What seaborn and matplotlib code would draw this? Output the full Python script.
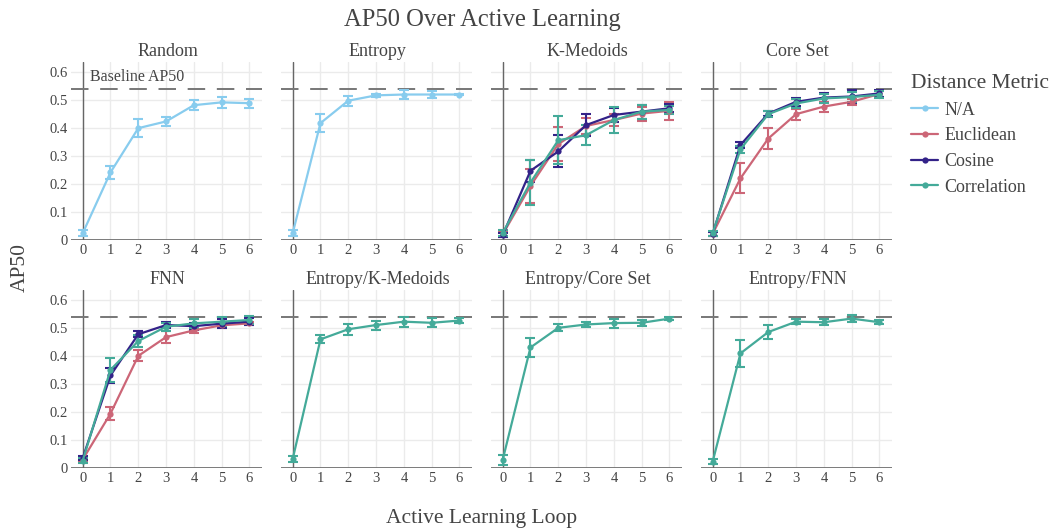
import numpy as np
import pandas as pd
import matplotlib
matplotlib.use("Agg")
import matplotlib.pyplot as plt
from matplotlib.lines import Line2D
import seaborn as sns

sns.set_theme(style="white")
plt.rcParams["font.family"] = ["Liberation Serif", "DejaVu Serif"]

loops = [0, 1, 2, 3, 4, 5, 6]
baseline_ap50 = 0.54

strategies = ["Random", "Entropy", "K-Medoids", "Core Set",
              "FNN", "Entropy/K-Medoids", "Entropy/Core Set", "Entropy/FNN"]
metrics = ["N/A", "Euclidean", "Cosine", "Correlation"]
colors = {"N/A": "#88CCEE", "Euclidean": "#CC6677",
          "Cosine": "#332288", "Correlation": "#44AA99"}

# mean AP50 per loop and its error (half-width)
random_na = [0.024, 0.241, 0.399, 0.423, 0.481, 0.491, 0.488]
random_na_err = [0.010, 0.022, 0.032, 0.016, 0.017, 0.020, 0.016]

entropy_na = [0.024, 0.417, 0.497, 0.516, 0.519, 0.519, 0.519]
entropy_na_err = [0.010, 0.032, 0.018, 0.006, 0.017, 0.012, 0.003]

kmed_euc = [0.020, 0.193, 0.342, 0.407, 0.428, 0.451, 0.461]
kmed_euc_err = [0.010, 0.060, 0.060, 0.030, 0.020, 0.025, 0.033]
kmed_cos = [0.017, 0.247, 0.316, 0.410, 0.446, 0.458, 0.470]
kmed_cos_err = [0.008, 0.040, 0.057, 0.040, 0.024, 0.025, 0.015]
kmed_cor = [0.025, 0.205, 0.356, 0.374, 0.428, 0.458, 0.464]
kmed_cor_err = [0.010, 0.079, 0.085, 0.035, 0.045, 0.025, 0.015]

core_euc = [0.022, 0.220, 0.362, 0.449, 0.476, 0.493, 0.521]
core_euc_err = [0.008, 0.054, 0.038, 0.020, 0.018, 0.010, 0.010]
core_cos = [0.022, 0.339, 0.451, 0.493, 0.508, 0.512, 0.523]
core_cos_err = [0.008, 0.010, 0.010, 0.015, 0.018, 0.022, 0.012]
core_cor = [0.024, 0.324, 0.449, 0.487, 0.505, 0.510, 0.518]
core_cor_err = [0.008, 0.012, 0.010, 0.015, 0.015, 0.018, 0.012]

fnn_euc = [0.030, 0.194, 0.400, 0.467, 0.491, 0.509, 0.516]
fnn_euc_err = [0.008, 0.024, 0.020, 0.020, 0.010, 0.010, 0.005]
fnn_cos = [0.035, 0.330, 0.477, 0.510, 0.506, 0.515, 0.522]
fnn_cos_err = [0.008, 0.025, 0.010, 0.012, 0.012, 0.015, 0.012]
fnn_cor = [0.026, 0.350, 0.453, 0.504, 0.516, 0.522, 0.528]
fnn_cor_err = [0.008, 0.043, 0.020, 0.015, 0.015, 0.015, 0.015]

ekmed_cor = [0.032, 0.459, 0.495, 0.510, 0.522, 0.518, 0.526]
ekmed_cor_err = [0.010, 0.014, 0.020, 0.016, 0.018, 0.016, 0.010]

ecore_cor = [0.029, 0.430, 0.500, 0.512, 0.517, 0.518, 0.533]
ecore_cor_err = [0.018, 0.035, 0.012, 0.008, 0.016, 0.010, 0.004]

efnn_cor = [0.023, 0.409, 0.485, 0.522, 0.520, 0.533, 0.520]
efnn_cor_err = [0.008, 0.048, 0.025, 0.010, 0.010, 0.012, 0.008]

series = [
    ("Random", "N/A", random_na, random_na_err),
    ("Entropy", "N/A", entropy_na, entropy_na_err),
    ("K-Medoids", "Euclidean", kmed_euc, kmed_euc_err),
    ("K-Medoids", "Cosine", kmed_cos, kmed_cos_err),
    ("K-Medoids", "Correlation", kmed_cor, kmed_cor_err),
    ("Core Set", "Euclidean", core_euc, core_euc_err),
    ("Core Set", "Cosine", core_cos, core_cos_err),
    ("Core Set", "Correlation", core_cor, core_cor_err),
    ("FNN", "Euclidean", fnn_euc, fnn_euc_err),
    ("FNN", "Cosine", fnn_cos, fnn_cos_err),
    ("FNN", "Correlation", fnn_cor, fnn_cor_err),
    ("Entropy/K-Medoids", "Correlation", ekmed_cor, ekmed_cor_err),
    ("Entropy/Core Set", "Correlation", ecore_cor, ecore_cor_err),
    ("Entropy/FNN", "Correlation", efnn_cor, efnn_cor_err),
]

rows = []
for strat, metric, vals, errs in series:
    for lp, v, e in zip(loops, vals, errs):
        rows.append({"strategy": strat, "metric": metric, "loop": lp,
                     "ap50": v, "err": e})
df = pd.DataFrame(rows)

W, H = 1051, 529
fig = plt.figure(figsize=(W / 100, H / 100), dpi=100)
fig.patch.set_facecolor("white")

text_col = "#444444"
lefts = [71, 281, 491, 701]
panel_w = 191
panel_h = 178
bottoms = [240, 468]  # pixel y of the x axis for each row

for i, strat in enumerate(strategies):
    r, c = divmod(i, 4)
    x0 = lefts[c]
    yb = bottoms[r]
    ax = fig.add_axes([x0 / W, 1 - yb / H, panel_w / W, panel_h / H])
    ax.set_facecolor("white")
    sub = df[df["strategy"] == strat]
    present = [m for m in metrics if m in sub["metric"].unique()]

    ax.set_xlim(-0.42, 6.45)
    ax.set_ylim(0, 0.635)
    ax.set_xticks(loops)
    ax.set_yticks(np.arange(0, 0.61, 0.1))
    ax.grid(True, color="#ebebeb", linewidth=1)
    ax.set_axisbelow(True)
    for s in ax.spines.values():
        s.set_visible(False)
    ax.axvline(0, color="#666666", linewidth=1, zorder=1)
    ax.axhline(0, color="#666666", linewidth=1.2, zorder=1)
    ax.axhline(baseline_ap50, color="#777777", linewidth=1.4,
               dashes=(9, 6), zorder=1.5)

    for m in present:
        d = sub[sub["metric"] == m]
        ax.errorbar(d["loop"], d["ap50"], yerr=d["err"], fmt="none",
                    ecolor=colors[m], elinewidth=1.5, capsize=3.5,
                    capthick=1.5, zorder=2)
        sns.lineplot(data=d, x="loop", y="ap50", color=colors[m],
                     marker="o", markersize=4.5, markeredgewidth=0,
                     linewidth=1.6, errorbar=None, legend=False, ax=ax,
                     zorder=3)

    ax.set_xlabel("")
    ax.set_ylabel("")
    ax.tick_params(axis="both", length=0, labelsize=10.5,
                   labelcolor=text_col)
    ax.tick_params(axis="x", pad=3)
    ax.tick_params(axis="y", pad=2)
    ax.set_xticklabels([str(v) for v in loops])
    if c == 0:
        ax.set_yticklabels(["0", "0.1", "0.2", "0.3", "0.4", "0.5", "0.6"])
    else:
        ax.set_yticklabels([])

    fig.text((x0 + panel_w / 2 + 1) / W, 1 - (yb - panel_h - 10) / H, strat,
             ha="center", va="center", fontsize=13, color=text_col)

    if i == 0:
        ax.text(0.25, baseline_ap50 + 0.012, "Baseline AP50", ha="left",
                va="bottom", fontsize=11.5, color=text_col)

fig.text(482 / W, 1 - 20 / H, "AP50 Over Active Learning", ha="center",
         va="center", fontsize=17.7, color=text_col)
fig.text(482 / W, 1 - 518 / H, "Active Learning Loop", ha="center",
         va="center", fontsize=15.5, color=text_col)
fig.text(20 / W, 1 - 268 / H, "AP50", ha="center", va="center",
         rotation=90, fontsize=15.5, color=text_col)

handles = [Line2D([0], [0], color=colors[m], linewidth=1.6, marker="o",
                  markersize=4.5, markeredgewidth=0) for m in metrics]
leg = fig.legend(handles, metrics, title="Distance Metric",
                 loc="upper left", bbox_to_anchor=(911 / W, 1 - 74 / H),
                 frameon=False, fontsize=13, title_fontsize=15.5,
                 handlelength=1.5, handletextpad=0.35, labelspacing=0.48,
                 borderaxespad=0, borderpad=0)
leg._legend_box.align = "left"
for t in leg.get_texts():
    t.set_color(text_col)
leg.get_title().set_color(text_col)

fig.savefig("out.png", dpi=100, facecolor="white")
